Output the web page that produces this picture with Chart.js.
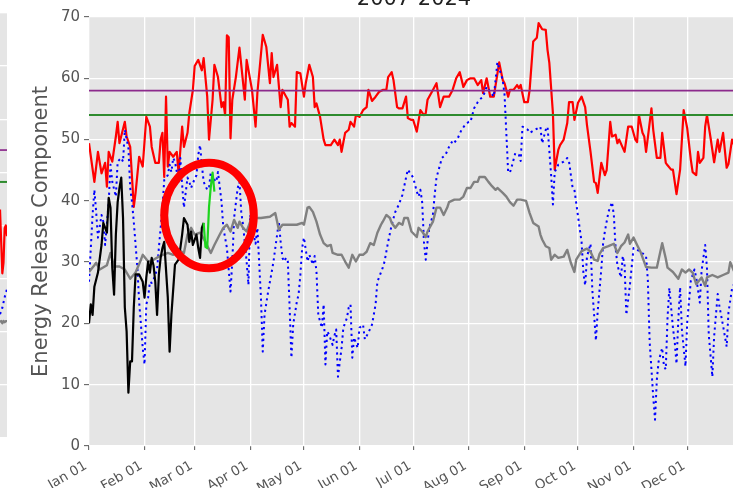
<!DOCTYPE html>
<html>
<head>
<meta charset="utf-8">
<script src="https://cdn.jsdelivr.net/npm/chart.js@4.4.1/dist/chart.umd.min.js"></script>
<style>
  html, body { margin: 0; padding: 0; overflow: hidden; background: #fff; width: 733px; height: 488px; }
  #main { position: absolute; left: 0; top: 0; }
  #side { position: absolute; left: 0; top: 13px; }
</style>
</head>
<body>
<canvas id="main" width="760" height="488"></canvas>
<canvas id="side" width="7" height="425"></canvas>
<script>
// ---- Day-of-year axis ----
const dayStart = 0;
const dayEnd = 364;
const monthDays = [0, 31, 59, 90, 120, 151, 181, 212, 243, 273, 304, 334];
const monthLabels = ['Jan 01', 'Feb 01', 'Mar 01', 'Apr 01', 'May 01', 'Jun 01',
                     'Jul 01', 'Aug 01', 'Sep 01', 'Oct 01', 'Nov 01', 'Dec 01'];
const ercTicks = [0, 10, 20, 30, 40, 50, 60, 70];
const titleText = '2007-2024';

// ---- Percentile thresholds (97th, 90th) ----
const thresholds = [58, 54];

// ---- Historical maximum ERC ----
const maxDay = [0,3,5,7,9,10,11,13,15,16,17,20,21,23,25,26,28,30,32,34,35,37,39,40,41,42,43,44,45,47,49,50,52,53,55,56,58,59,61,63,64,66,67,69,70,72,74,75,76,77,78,79,80,82,84,87,88,91,93,94,97,99,101,102,103,105,107,108,111,112,113,115,116,118,120,121,123,125,126,127,129,131,132,135,137,139,140,141,143,145,146,148,149,151,153,155,156,158,160,162,164,166,167,169,170,172,173,175,177,178,180,181,183,185,187,188,189,192,194,196,198,201,203,205,207,209,211,213,215,217,219,220,222,224,226,229,231,232,234,235,237,239,240,241,243,245,246,248,250,251,253,255,256,257,259,260,262,263,265,267,268,270,271,273,275,277,278,280,282,283,284,286,288,289,291,292,294,295,296,299,301,303,305,306,307,309,310,311,314,315,317,319,320,322,323,325,326,328,330,332,334,336,337,339,340,341,343,344,345,347,349,351,352,354,356,357,359,361,362,364];
const maxErc = [49.4,43.1,48,44.5,46.2,42.3,48,46.4,50.5,52.9,49.4,52.9,50.5,48.8,39,41.3,47.2,45.6,53.7,52.1,48.8,46.2,46.2,50,51.1,43.9,57,45.6,48,47.2,48,44.5,52.1,48.8,51.1,54.3,58.1,62,63,61.3,63.3,57,50,56.5,62.2,60.2,55.3,56.1,54,67,66.7,50.2,56.5,60.2,65,56.5,63,58.1,52.1,57.6,67.1,65.1,59.2,64.1,60.2,62.2,55.3,58.1,56.5,52.1,52.7,52.1,61,60.8,57,59.2,62.2,60.2,55.3,55.9,53.7,50,49.1,49.1,50,49.1,50,48,51.1,51.6,52.9,52.1,54,53.7,54.8,55.3,58.1,56.3,57,57.8,58.1,58.1,60.2,61,59.7,55.3,55.1,55.1,57,53.5,53.2,53.2,51.3,54.8,54,54.3,56.5,58.1,59.2,55.3,57,57,58.1,60,61,58.6,59.7,60,60,58.9,59.7,57.6,60,57,57,62.6,59.7,59.2,57,58.1,58.1,58.9,58.4,58.9,56.1,56.1,58.1,66,66.6,69,68,67.9,64.6,62.5,54.3,45.1,48.3,49.1,50,52.7,56.1,56.1,53.2,56,57,55.3,52.4,48,43.1,42.9,41.3,46.2,44.2,45,52.9,50.5,50.8,49.4,50,48,52.1,52.1,50,49.6,54,51.1,50.5,48,55.1,51.6,47,47,51.1,46.2,45.8,45.1,45.1,41.1,45.1,54.8,51.8,46.7,44.7,44.2,48,46.2,47,52.1,54,50.3,46.3,50,48,51.1,45.4,46,50,48.5,47,49];

// ---- Historical minimum ERC ----
const minDay = [0,2,3,4,5,7,8,9,11,12,13,15,16,18,19,20,22,23,24,25,27,28,30,31,32,33,34,35,36,38,39,40,41,42,44,45,46,47,48,50,51,52,53,55,56,57,58,60,61,62,63,64,66,67,68,69,71,72,74,75,77,79,80,81,83,84,85,86,88,89,90,91,93,94,96,97,98,100,102,103,104,106,107,108,109,110,111,112,113,114,116,117,118,119,120,122,123,125,126,127,128,130,131,132,133,134,136,137,138,139,141,142,144,145,146,147,148,150,151,153,154,156,158,160,161,164,165,167,169,171,173,175,177,178,180,181,183,184,185,186,187,188,189,190,192,193,194,196,197,199,201,203,204,206,208,210,212,213,215,217,218,220,222,226,228,231,232,234,235,236,238,240,241,242,245,246,249,252,253,255,256,258,259,260,262,265,267,268,270,271,273,275,276,277,278,280,281,283,284,286,287,288,290,292,293,294,295,297,298,299,300,302,304,306,308,310,311,312,313,315,316,317,318,320,321,322,323,324,326,327,328,329,330,331,333,334,336,338,339,341,342,344,345,346,348,349,351,352,354,356,357,359,361,364];
const minErc = [26.8,37.7,41.8,38.2,34,37.7,36.6,32.8,39.8,45.9,43.1,40.7,46.4,47,46.4,51.6,48.6,42.1,39.8,36.6,29.1,23.5,16,13.3,23.1,24.2,26.8,26.6,27.1,28.8,32.3,35.6,38.9,43.4,44.2,45.9,44.7,47,46.4,43.1,47,42.6,38.9,43.8,43.1,42.1,42.9,44.2,47.5,49.1,45.9,43.1,41.8,42.1,44.7,43.8,43.1,44.7,39.8,35.6,32.3,25.2,30.1,37.2,42.1,43.1,38.2,36.1,30.1,26.3,37.7,35.6,33,35.6,24.2,15.4,21.4,25.2,28.4,30.1,32.3,36.6,33.3,30.7,30.1,30.7,30.1,22.6,14.4,19.8,23.5,24.7,27.9,32.3,34,30.1,31.2,29.6,31,28.4,21.4,19.3,23.1,13.3,18.7,18.2,16.5,18,19,11.3,16,19.3,20.9,22.6,23.1,14.4,17.7,16,19.3,19.8,17.4,18.5,19.8,23.1,26.8,29.1,30.1,33.3,36.1,38.2,39.4,41,43.8,45.1,44.2,43.8,41.5,40.7,41.8,39.8,33.3,30.4,33.3,35.6,37.7,41,43.8,45.9,47,47.5,48.8,49.8,49.5,50.3,51.6,52.4,52.9,52.9,55.1,56.1,56.5,57,58.6,57,62.6,59.7,57.3,44.7,44.6,45.6,47.8,47.5,46.5,52.1,51.6,51.1,51.6,52.1,49.4,51.6,52.1,44.2,39.4,44.7,45.9,46.4,47,46.4,42.1,41.8,37.5,33.3,28.3,26.2,30.9,33,25.5,17.2,22,28.8,33,35,38.2,39.8,37.7,32.3,29.5,27.5,31,29.5,21.4,26.3,32.3,32,31.7,31.2,31,27,17,8,4.3,10.8,13.8,16,13,12.5,21,25.8,19.3,17,13.4,20.6,25.9,19,13,20.3,27,28.8,27.5,23.4,28.6,32.8,29,18.2,11.3,17.9,24.8,22.7,19.6,16.2,21.8,25.7,27,25];

// ---- Historical average ERC ----
const avgDay = [0,3,4,6,10,12,14,17,20,23,26,29,30,33,36,39,44,47,50,53,55,57,59,62,65,68,70,73,75,77,79,81,83,84,86,88,90,92,96,101,104,106,108,110,113,116,119,120,122,123,125,127,129,131,133,135,136,139,141,143,145,147,149,151,153,155,157,159,161,163,164,166,168,169,171,173,175,176,178,180,183,184,186,188,189,192,194,196,198,200,201,204,207,209,211,213,215,217,218,221,223,225,227,228,231,233,235,237,239,241,244,246,248,251,252,253,255,257,258,260,262,265,267,269,271,272,275,278,280,282,284,285,287,290,293,295,297,299,301,302,304,306,308,311,314,317,320,322,323,326,329,331,333,335,337,339,342,344,345,348,351,354,357,358,360,364];
const avgErc = [28.4,29.5,29.9,28.8,29.5,31.5,29.3,29.3,28.8,27.3,28.3,30.4,31.2,30.1,30.4,30.9,31.5,31.2,32,31.5,34.5,35.6,34.5,34.8,33.3,31.5,32.8,34.5,35.6,36.1,35,36.9,35.6,36.6,35.6,35,36.6,37.2,37.2,37.4,38,35.3,36.1,36.1,36.1,36.1,36.4,36.1,38.9,39,38.2,36.6,34.5,33.1,32.6,32.8,31.5,31.2,31.2,30.1,29.1,31.2,30.1,31.2,31.2,31.7,33.1,32.8,34.8,36.1,36.6,37.7,37.2,36.4,35.6,36.4,36.1,37.2,37.2,35,34.1,35.6,35,34.1,35,36.6,38.9,38.9,37.7,38.9,39.8,40.2,40.2,40.7,42.1,42.1,43.1,43.1,43.9,43.9,43.1,42.4,41.8,42.1,41.3,40.7,39.8,39.2,40.2,40.2,40,38,36.4,35.8,34.5,33.7,32.6,32.3,30.4,31.2,30.7,30.9,32,29.9,28.4,30.4,31.8,32.2,31.7,30.4,30.2,31.3,32.3,32.6,33,31.5,32.6,33.2,34.5,33,34,32.8,31.6,29.2,29.1,29.1,33.1,30.6,29.1,28.4,27.3,28.8,28.3,28.8,28.3,26.4,27.5,26.1,27.5,27.9,27.5,27.9,28.3,30,28.6,29];

// ---- Current season, observed ----
const obsDay = [0,1,2,3,5,7,8,10,11,12,13,14,15,16,17,18,19,20,21,22,23,24,25,26,28,30,31,32,33,34,35,36,37,38,39,40,41,42,44,45,46,48,50,51,52,53,55,56,57,58,60,61,62,63,64];
const obsErc = [20,23.1,21.4,26,28.3,32.8,36.4,34.8,40.5,38.9,29.1,24.7,34.5,39.8,42.1,43.8,37.2,22.6,18.7,8.7,13.8,13.8,22.6,28,28,26.8,24.2,27.5,30.1,28.3,30.7,29.5,26.8,21.4,28,30.7,32.3,33.3,24.2,15.4,21.4,29.6,30.4,32.3,34.5,37.2,36.1,33.3,35,32.8,34.5,32.3,30.7,35.6,36.4];

// ---- Current season, forecast ----
const fcDay = [64, 65, 66, 67, 68, 69, 70];
const fcErc = [36.4, 32.5, 32.3, 39, 42.3, 44.6, 41.5];

// ---- Neighbouring station panel (right edge only) ----
const sideDay = [358, 359, 360, 361, 362, 363, 364];
const sideMax = [43, 37, 31, 33, 39.5, 40, 38];
const sideMin = [23.3, 23.8, 24.5, 25.5, 26.5, 27.3, 28];
const sideAvg = [21.8, 22, 21.6, 22, 21.8, 22, 22];
const sideThresholds = [54.2, 48.2];

const pts = (days, vals) => days.map((d, i) => ({ x: d, y: vals[i] }));
const hline = (v) => [{ x: dayStart, y: v }, { x: dayEnd, y: v }];

Chart.defaults.font.family = "'DejaVu Sans', sans-serif";

const panelBg = {
  id: 'panelBg',
  beforeDraw(chart) {
    const { ctx, chartArea: a } = chart;
    ctx.save();
    ctx.fillStyle = '#E5E5E5';
    ctx.fillRect(a.left, a.top, a.right - a.left, a.bottom - a.top);
    ctx.restore();
  }
};

const headline = {
  id: 'headline',
  afterDraw(chart) {
    const { ctx, chartArea: a } = chart;
    ctx.save();
    ctx.font = "21px 'DejaVu Sans', sans-serif";
    ctx.fillStyle = '#222';
    ctx.textAlign = 'center';
    ctx.textBaseline = 'alphabetic';
    ctx.fillText(titleText, (a.left + a.right) / 2 - 1, 5);
    ctx.restore();
  }
};

// Red ring highlighting the start of the forecast
const ring = { day: 67, erc: 37.6, spanDays: 25, spanErc: 8.6 };
const ringPlugin = {
  id: 'ring',
  afterDatasetsDraw(chart) {
    const { ctx, scales: { x, y } } = chart;
    const cx = x.getPixelForValue(ring.day);
    const cy = y.getPixelForValue(ring.erc);
    const rx = x.getPixelForValue(ring.day + ring.spanDays) - cx;
    const ry = cy - y.getPixelForValue(ring.erc + ring.spanErc);
    ctx.save();
    ctx.beginPath();
    ctx.ellipse(cx, cy, rx, ry, 0, 0, Math.PI * 2);
    ctx.strokeStyle = '#ff0000';
    ctx.lineWidth = 8;
    ctx.stroke();
    ctx.restore();
  }
};

const line = (data, color, width, extra) => Object.assign({
  data, borderColor: color, borderWidth: width, pointRadius: 0,
  tension: 0, fill: false, borderJoinStyle: 'round'
}, extra || {});

new Chart(document.getElementById('main'), {
  type: 'line',
  data: {
    datasets: [
      line(hline(thresholds[0]), '#8c2a8c', 1.7),
      line(hline(thresholds[1]), '#2e8b2e', 2),
      line(pts(fcDay, fcErc), '#1ed41e', 2.2),
      line(pts(obsDay, obsErc), '#000000', 2.2),
      line(pts(avgDay, avgErc), '#808080', 2.4),
      line(pts(minDay, minErc), '#0000ff', 2, { borderDash: [2.2, 3.6], borderCapStyle: 'butt' }),
      line(pts(maxDay, maxErc), '#ff0000', 2.2)
    ]
  },
  options: {
    responsive: false,
    animation: false,
    devicePixelRatio: 1,
    layout: { padding: { top: 17, right: 19, left: 0, bottom: 0 } },
    plugins: { legend: { display: false }, tooltip: { enabled: false } },
    scales: {
      x: {
        type: 'linear', min: dayStart, max: dayEnd,
        afterBuildTicks: (s) => { s.ticks = monthDays.map(v => ({ value: v })); },
        afterFit: (s) => { s.height = 42; },
        ticks: {
          autoSkip: false, minRotation: 30, maxRotation: 30,
          color: '#555', font: { size: 13.5 }, padding: 8, labelOffset: -3,
          callback: (v) => monthLabels[monthDays.indexOf(v)]
        },
        grid: { color: '#ffffff', lineWidth: 1.3, tickLength: 4, tickColor: '#555', tickWidth: 1 },
        border: { display: false }
      },
      y: {
        min: 0, max: 70,
        afterBuildTicks: (s) => { s.ticks = ercTicks.map(v => ({ value: v })); },
        afterFit: (s) => { s.width = 89; },
        ticks: { color: '#555', font: { size: 15 }, padding: 4 },
        grid: { color: '#ffffff', lineWidth: 1.3, tickLength: 5, tickColor: '#555', tickWidth: 1 },
        border: { display: false },
        title: {
          display: true, text: 'Energy Release Component', color: '#555',
          font: { size: 21 }, padding: { top: 29, bottom: 0 }
        }
      }
    }
  },
  plugins: [panelBg, ringPlugin, headline]
});

new Chart(document.getElementById('side'), {
  type: 'line',
  data: {
    datasets: [
      line(pts([sideDay[0], sideDay[sideDay.length - 1]], [sideThresholds[0], sideThresholds[0]]), '#8c2a8c', 1.7),
      line(pts([sideDay[0], sideDay[sideDay.length - 1]], [sideThresholds[1], sideThresholds[1]]), '#2e8b2e', 2),
      line(pts(sideDay, sideAvg), '#808080', 2.4),
      line(pts(sideDay, sideMin), '#0000ff', 2, { borderDash: [2.2, 3.6], borderCapStyle: 'butt' }),
      line(pts(sideDay, sideMax), '#ff0000', 2.2)
    ]
  },
  options: {
    responsive: false,
    animation: false,
    devicePixelRatio: 1,
    layout: { padding: 0 },
    plugins: { legend: { display: false }, tooltip: { enabled: false } },
    scales: {
      x: { type: 'linear', display: false, min: sideDay[0], max: sideDay[sideDay.length - 1] },
      y: {
        min: 0, max: 80,
        afterFit: (s) => { s.width = 0; },
        ticks: { display: false, stepSize: 10 },
        grid: { color: '#ffffff', lineWidth: 1.3, drawTicks: false },
        border: { display: false }
      }
    }
  },
  plugins: [panelBg]
});
</script>
</body>
</html>
